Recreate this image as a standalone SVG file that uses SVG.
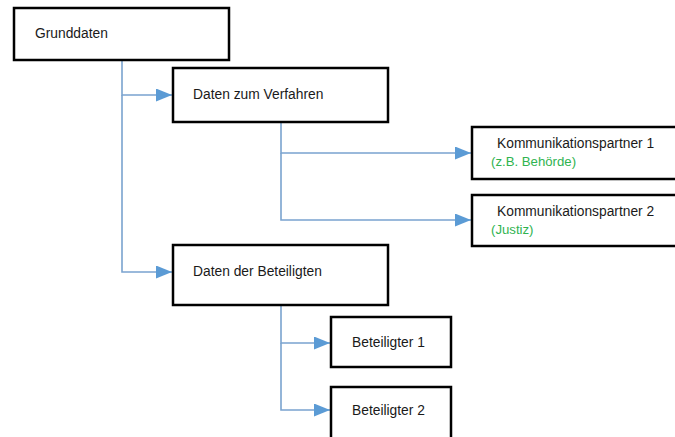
<svg xmlns="http://www.w3.org/2000/svg" width="675" height="437" viewBox="0 0 675 437">
<style>
.box{fill:#fff;stroke:#000;stroke-width:2.5}
.t{font-family:"Liberation Sans",Arial,sans-serif;font-size:13.8px;fill:#1a1a1a}
.g{font-family:"Liberation Sans",Arial,sans-serif;font-size:13.2px;fill:#2fb350}
.c{fill:none;stroke:#7aa3cf;stroke-width:1.6}
</style>
<defs>
<marker id="ah" markerWidth="16" markerHeight="13" refX="16" refY="6.5" orient="auto" markerUnits="userSpaceOnUse" viewBox="0 0 16 13">
<path d="M0,0 L16,6.5 L0,13 Z" fill="#5b9bd5"/>
</marker>
</defs>
<rect width="675" height="437" fill="#fff"/>
<g id="connectors">
<path class="c" d="M122,60 V95 H172" marker-end="url(#ah)"/>
<path class="c" d="M122,95 V272 H172" marker-end="url(#ah)"/>
<path class="c" d="M281,122 V153 H471" marker-end="url(#ah)"/>
<path class="c" d="M281,153 V220 H471" marker-end="url(#ah)"/>
<path class="c" d="M281,305 V343 H330" marker-end="url(#ah)"/>
<path class="c" d="M281,343 V410 H330" marker-end="url(#ah)"/>
</g>
<g id="grunddaten">
<rect class="box" x="14" y="8" width="215" height="52"/>
<text class="t" x="35" y="38">Grunddaten</text>
</g>
<g id="daten-verfahren">
<rect class="box" x="173" y="68" width="215" height="54"/>
<text class="t" x="193" y="99">Daten zum Verfahren</text>
</g>
<g id="kp1">
<rect class="box" x="472" y="127" width="210" height="52"/>
<text class="t" x="497" y="148">Kommunikationspartner 1</text>
<text class="g" x="491" y="166">(z.B. Behörde)</text>
</g>
<g id="kp2">
<rect class="box" x="472" y="195" width="210" height="51"/>
<text class="t" x="497" y="216">Kommunikationspartner 2</text>
<text class="g" x="491" y="234">(Justiz)</text>
</g>
<g id="daten-beteiligte">
<rect class="box" x="173" y="245" width="215" height="60"/>
<text class="t" x="193" y="276">Daten der Beteiligten</text>
</g>
<g id="beteiligter1">
<rect class="box" x="331" y="317" width="120" height="50"/>
<text class="t" x="352" y="347">Beteiligter 1</text>
</g>
<g id="beteiligter2">
<rect class="box" x="331" y="387" width="120" height="60"/>
<text class="t" x="352" y="415">Beteiligter 2</text>
</g>
</svg>
